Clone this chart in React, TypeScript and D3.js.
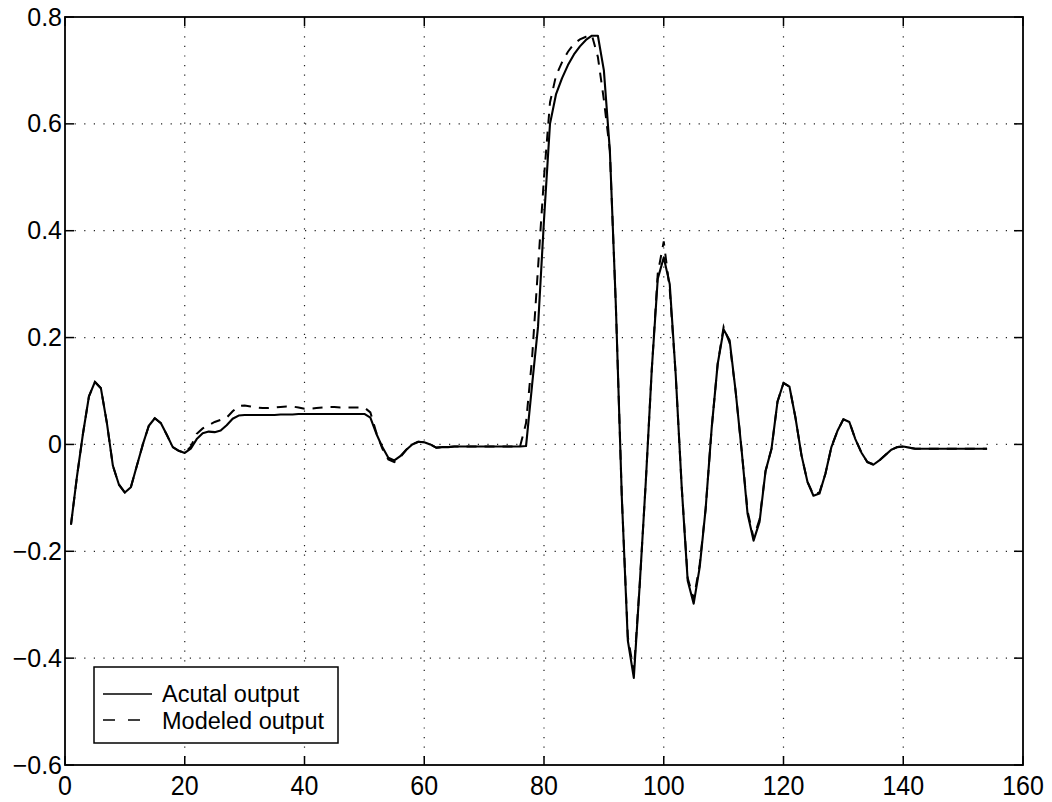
import React from "react";
import * as d3 from "d3";

// Sample values (sample index 1..154)
const actualOutput: number[] = [
  -0.15, -0.06, 0.02, 0.09, 0.117, 0.105, 0.04, -0.04, -0.075, -0.09,
  -0.08, -0.04, 0.0, 0.035, 0.049, 0.04, 0.018, -0.005, -0.012, -0.016,
  -0.008, 0.01, 0.021, 0.024, 0.023, 0.026, 0.036, 0.048, 0.054, 0.055,
  0.055, 0.055, 0.055, 0.055, 0.055, 0.056, 0.056, 0.056, 0.057, 0.057,
  0.057, 0.057, 0.057, 0.057, 0.057, 0.057, 0.057, 0.057, 0.057, 0.057,
  0.05, 0.02, -0.005, -0.025, -0.03, -0.022, -0.01, 0.0, 0.005, 0.004,
  0.0, -0.006, -0.005, -0.005, -0.004, -0.004, -0.004, -0.004, -0.004, -0.004,
  -0.004, -0.004, -0.004, -0.004, -0.004, -0.004, -0.003, 0.11, 0.22, 0.42,
  0.6, 0.655, 0.685, 0.71, 0.73, 0.745, 0.757, 0.765, 0.765, 0.7,
  0.55, 0.26, -0.1, -0.367, -0.437, -0.26, -0.07, 0.14, 0.31, 0.35,
  0.3, 0.13, -0.08, -0.255, -0.298, -0.23, -0.12, 0.03, 0.15, 0.215,
  0.195, 0.1, -0.01, -0.13, -0.18, -0.145, -0.05, -0.008, 0.08, 0.115,
  0.108, 0.05, -0.02, -0.07, -0.096, -0.092, -0.055, -0.005, 0.025, 0.047,
  0.042, 0.01, -0.015, -0.033, -0.038, -0.03, -0.02, -0.01, -0.005, -0.004,
  -0.006, -0.008, -0.008, -0.008, -0.008, -0.008, -0.008, -0.008, -0.008, -0.008,
  -0.008, -0.008, -0.008, -0.008,
];

const modeledOutput: number[] = [
  -0.15, -0.06, 0.02, 0.09, 0.117, 0.105, 0.04, -0.04, -0.075, -0.09,
  -0.08, -0.04, 0.0, 0.035, 0.049, 0.04, 0.018, -0.005, -0.012, -0.016,
  -0.004, 0.02, 0.03, 0.036, 0.042, 0.046, 0.05, 0.062, 0.072, 0.073,
  0.071, 0.069, 0.068, 0.068, 0.069, 0.07, 0.071, 0.071, 0.069, 0.067,
  0.067, 0.068, 0.069, 0.07, 0.07, 0.069, 0.069, 0.069, 0.069, 0.069,
  0.06, 0.022, -0.008, -0.028, -0.033, -0.024, -0.01, 0.0, 0.005, 0.004,
  0.0, -0.006, -0.005, -0.005, -0.004, -0.004, -0.004, -0.004, -0.004, -0.004,
  -0.004, -0.004, -0.004, -0.004, -0.004, -0.004, 0.04, 0.16, 0.33, 0.5,
  0.64, 0.69, 0.715, 0.735, 0.75, 0.758, 0.763, 0.766, 0.725, 0.645,
  0.55, 0.26, -0.1, -0.36, -0.425, -0.26, -0.07, 0.14, 0.32, 0.38,
  0.29, 0.13, -0.08, -0.25, -0.29, -0.225, -0.12, 0.03, 0.15, 0.22,
  0.19, 0.1, -0.01, -0.125, -0.175, -0.14, -0.05, -0.008, 0.08, 0.115,
  0.108, 0.05, -0.02, -0.07, -0.094, -0.09, -0.055, -0.005, 0.025, 0.047,
  0.042, 0.01, -0.015, -0.033, -0.037, -0.03, -0.02, -0.01, -0.005, -0.004,
  -0.006, -0.008, -0.008, -0.008, -0.008, -0.008, -0.008, -0.008, -0.008, -0.008,
  -0.008, -0.008, -0.008, -0.008,
];

const xTicks: number[] = [0, 20, 40, 60, 80, 100, 120, 140, 160];
const yTicks: number[] = [-0.6, -0.4, -0.2, 0, 0.2, 0.4, 0.6, 0.8];
const legendLabels: string[] = ["Acutal output", "Modeled output"];

const W = 1052;
const H = 802;
const left = 65;
const right = 1023;
const top = 17;
const bottom = 765;
const FONT = "'Liberation Sans', Arial, Helvetica, sans-serif";

export default function App() {
  const x = d3.scaleLinear().domain([0, 160]).range([left, right]);
  const y = d3.scaleLinear().domain([-0.6, 0.8]).range([bottom, top]);

  const line = d3
    .line<number>()
    .x((_, i) => x(i + 1))
    .y((d) => y(d));

  const fmtY = (v: number) => {
    const s = Math.abs(v) < 1e-9 ? "0" : d3.format(".1f")(Math.abs(v));
    return v < -1e-9 ? "\u2212" + s : s;
  };

  const tickLen = 9;
  const gridStyle = { stroke: "#222", strokeWidth: 1.2, strokeDasharray: "1.2 8.4" };

  return (
    <svg
      width={W}
      height={H}
      style={{ position: "absolute", left: 0, top: 0, background: "#fff" }}
      fontFamily={FONT}
    >
      <rect x={0} y={0} width={W} height={H} fill="#fff" />
      {/* grid */}
      {xTicks
        .filter((t) => t > 0 && t < 160)
        .map((t) => (
          <line key={"gx" + t} x1={x(t)} x2={x(t)} y1={top} y2={bottom} {...gridStyle} />
        ))}
      {yTicks
        .filter((t) => t > -0.6 && t < 0.8)
        .map((t) => (
          <line key={"gy" + t} x1={left} x2={right} y1={y(t)} y2={y(t)} {...gridStyle} />
        ))}

      {/* ticks */}
      {xTicks.map((t) => (
        <g key={"tx" + t}>
          <line x1={x(t)} x2={x(t)} y1={bottom} y2={bottom - tickLen} stroke="#000" strokeWidth={1.5} />
          <line x1={x(t)} x2={x(t)} y1={top} y2={top + tickLen} stroke="#000" strokeWidth={1.5} />
          <text
            x={x(t)}
            y={795}
            textAnchor="middle"
            fontSize={25}
            fill="#000"
            transform={`translate(0, ${795 * -0.12}) scale(1, 1.12)`}
          >
            {t}
          </text>
        </g>
      ))}
      {yTicks.map((t) => (
        <g key={"ty" + t}>
          <line x1={left} x2={left + tickLen} y1={y(t)} y2={y(t)} stroke="#000" strokeWidth={1.5} />
          <line x1={right} x2={right - tickLen} y1={y(t)} y2={y(t)} stroke="#000" strokeWidth={1.5} />
          <text x={left - 3} y={y(t) + 8.5} textAnchor="end" fontSize={25} fill="#000">
            {fmtY(t)}
          </text>
        </g>
      ))}

      {/* series */}
      <path d={line(actualOutput) || ""} fill="none" stroke="#000" strokeWidth={2.1} strokeLinejoin="round" />
      <path
        d={line(modeledOutput) || ""}
        fill="none"
        stroke="#000"
        strokeWidth={2}
        strokeDasharray="10 8"
      />

      {/* frame */}
      <rect x={left} y={top} width={right - left} height={bottom - top} fill="none" stroke="#000" strokeWidth={1.8} />

      {/* legend */}
      <g>
        <rect x={94} y={667} width={244} height={76} fill="#fff" stroke="#000" strokeWidth={1.5} />
        <line x1={103} x2={152} y1={694} y2={694} stroke="#000" strokeWidth={1.5} />
        <line x1={103} x2={152} y1={720} y2={720} stroke="#000" strokeWidth={1.5} strokeDasharray="12 13" />
        <text x={162} y={702} fontSize={23.5} fill="#000">
          {legendLabels[0]}
        </text>
        <text x={162} y={729} fontSize={23.5} fill="#000">
          {legendLabels[1]}
        </text>
      </g>
    </svg>
  );
}
